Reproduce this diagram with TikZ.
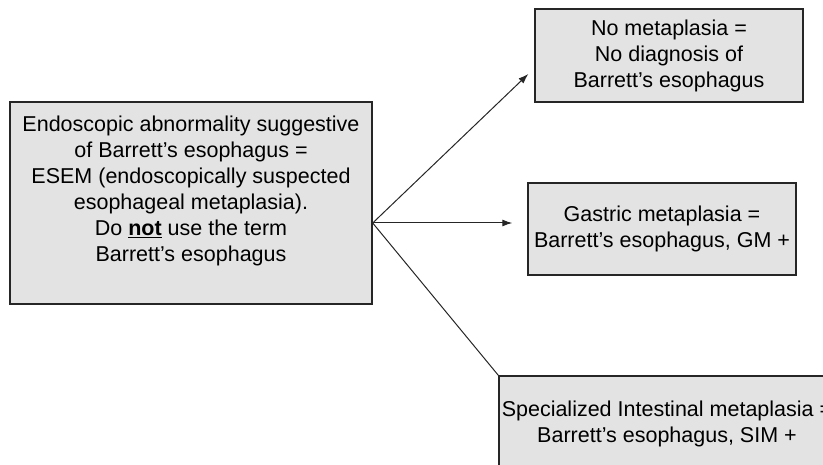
\documentclass[tikz,border=0pt]{standalone}
\usepackage{fontspec}
\setmainfont{Liberation Sans}
\usetikzlibrary{arrows.meta,positioning}

\tikzset{
  box/.style={rectangle, draw=black!85, line width=1.4pt, fill=black!11, inner sep=0pt},
  txt/.style={align=center, inner sep=0pt, font=\fontsize{21.5}{26}\selectfont},
  link/.style={draw=black!85, line width=1pt}
}

\begin{document}
\begin{tikzpicture}[x=1pt,y=-1pt,>={Latex[length=10pt,width=7pt]}]
  \useasboundingbox (0,0) rectangle (823,465);
  \clip (0,0) rectangle (823,465);

  % boxes
  \node [box, minimum width=362pt, minimum height=202pt] (esem) at (191,203) {};
  \node [txt] (esem_t) at (191,191) {Endoscopic abnormality suggestive\\
    of Barrett's esophagus =\\
    ESEM (endoscopically suspected\\
    esophageal metaplasia).\\
    Do \underline{\textbf{not}} use the term\\
    Barrett's esophagus};

  \node [box, txt, minimum width=268pt, minimum height=93pt] (nomet) at (669,55.5)
    {No metaplasia =\\ No diagnosis of\\ Barrett's esophagus};
  \node [box, txt, minimum width=268pt, minimum height=92pt] (gastric) at (662,229)
    {Gastric metaplasia =\\ Barrett's esophagus, GM +};

  \node [box, minimum width=333pt, minimum height=120pt] (sim) at (665.5,436) {};
  \node [txt] (sim_t) at (667,424) {Specialized Intestinal metaplasia =\\
    Barrett's esophagus, SIM +};

  % connectors
  \coordinate (fork) at ([yshift=-20pt]esem.east);
  \draw [link, ->] (fork) -- ([shift={(-6,18.5)}]nomet.west);
  \draw [link, ->] (fork) -- ([shift={(-15,-6)}]gastric.west);
  \draw [link] (fork) -- (sim.north west);
\end{tikzpicture}
\end{document}
